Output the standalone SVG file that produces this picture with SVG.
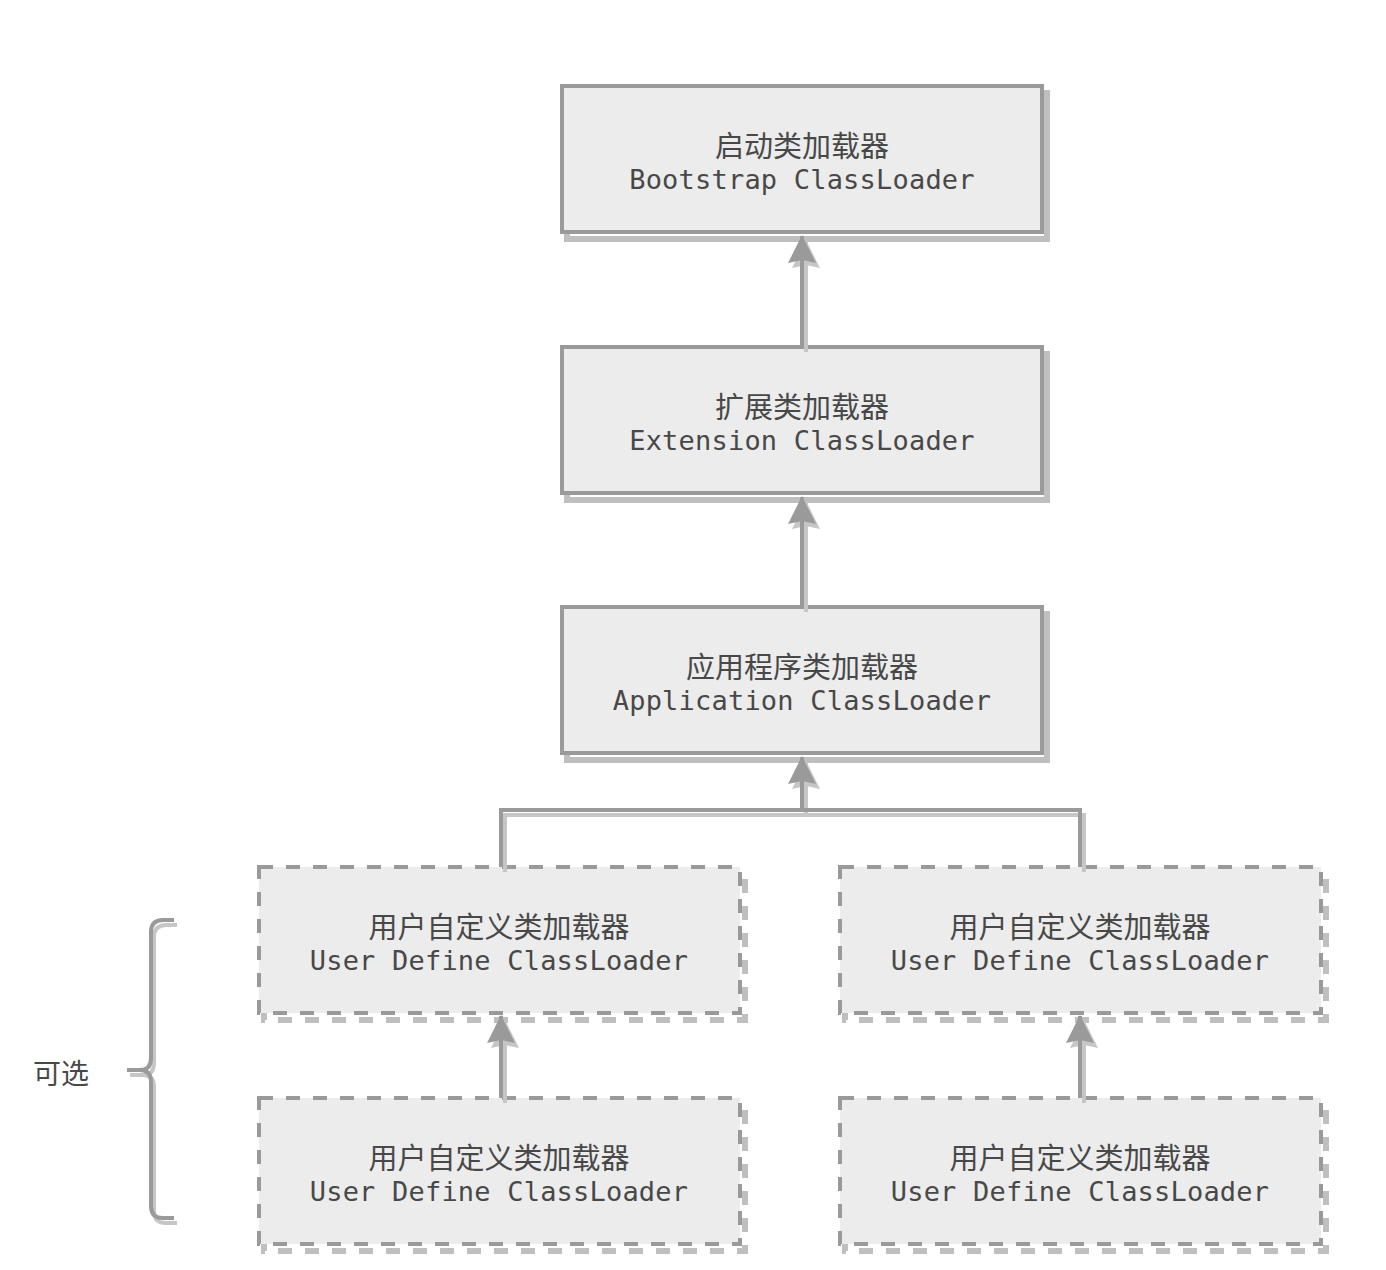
<svg xmlns="http://www.w3.org/2000/svg" width="1386" height="1270" viewBox="0 0 1386 1270">
  <style>
    .box { fill: #ececec; stroke: #9a9a9a; stroke-width: 4; }
    .dash { stroke-dasharray: 14 13; }
    .shadow { fill: none; stroke: #bfbfbf; stroke-width: 6; }
    .cn { font-family: "Noto Sans CJK SC", "Noto Sans", sans-serif; font-size: 29px; fill: #484848; text-anchor: middle; }
    .en { font-family: "DejaVu Sans Mono", "Liberation Mono", monospace; font-size: 27px; fill: #484848; text-anchor: middle; letter-spacing: 0.2px; }
    .wire { fill: none; stroke: #9a9a9a; stroke-width: 4; }
    .wire-shadow { fill: none; stroke: #c6c6c6; stroke-width: 4; }
    .head { fill: #9a9a9a; }
    .head-shadow { fill: #c6c6c6; }
    .brace { fill: none; stroke: #9a9a9a; stroke-width: 4; stroke-linecap: butt; }
    .brace-shadow { fill: none; stroke: #c6c6c6; stroke-width: 4; }
  </style>
  <defs>
    <marker id="arrow" markerUnits="userSpaceOnUse" markerWidth="28" markerHeight="30" refX="27" refY="14" orient="auto">
      <path class="head" d="M0 0 L28 14 L0 28 L3 14 Z"/>
    </marker>
    <marker id="arrow-shadow" markerUnits="userSpaceOnUse" markerWidth="28" markerHeight="30" refX="27" refY="14" orient="auto">
      <path class="head-shadow" d="M0 0 L28 14 L0 28 L3 14 Z"/>
    </marker>
  </defs>

  <rect width="1386" height="1270" fill="#ffffff"/>

  <!-- bootstrap loader -->
  <g id="bootstrap">
    <rect class="shadow" x="567" y="93" width="480" height="146"/>
    <rect class="box" x="562" y="86" width="480" height="146"/>
    <text class="cn" x="802" y="157">启动类加载器</text>
    <text class="en" x="802" y="189">Bootstrap ClassLoader</text>
  </g>

  <!-- extension loader -->
  <g id="extension">
    <rect class="shadow" x="567" y="354" width="480" height="146"/>
    <rect class="box" x="562" y="347" width="480" height="146"/>
    <text class="cn" x="802" y="418">扩展类加载器</text>
    <text class="en" x="802" y="450">Extension ClassLoader</text>
  </g>

  <!-- application loader -->
  <g id="application">
    <rect class="shadow" x="567" y="614" width="480" height="146"/>
    <rect class="box" x="562" y="607" width="480" height="146"/>
    <text class="cn" x="802" y="678">应用程序类加载器</text>
    <text class="en" x="802" y="710">Application ClassLoader</text>
  </g>

  <!-- user defined loaders -->
  <g id="user-left-1">
    <rect class="shadow dash" x="264" y="874" width="481" height="146"/>
    <rect class="box dash" x="259" y="867" width="481" height="146"/>
    <text class="cn" x="499" y="938">用户自定义类加载器</text>
    <text class="en" x="499" y="970">User Define ClassLoader</text>
  </g>
  <g id="user-right-1">
    <rect class="shadow dash" x="845" y="874" width="481" height="146"/>
    <rect class="box dash" x="840" y="867" width="481" height="146"/>
    <text class="cn" x="1080" y="938">用户自定义类加载器</text>
    <text class="en" x="1080" y="970">User Define ClassLoader</text>
  </g>
  <g id="user-left-2">
    <rect class="shadow dash" x="264" y="1105" width="481" height="146"/>
    <rect class="box dash" x="259" y="1098" width="481" height="146"/>
    <text class="cn" x="499" y="1169">用户自定义类加载器</text>
    <text class="en" x="499" y="1201">User Define ClassLoader</text>
  </g>
  <g id="user-right-2">
    <rect class="shadow dash" x="845" y="1105" width="481" height="146"/>
    <rect class="box dash" x="840" y="1098" width="481" height="146"/>
    <text class="cn" x="1080" y="1169">用户自定义类加载器</text>
    <text class="en" x="1080" y="1201">User Define ClassLoader</text>
  </g>

  <!-- optional bracket -->
  <g id="optional">
    <path class="brace-shadow" transform="translate(3,5)" d="M174 920 H163 Q151 920 151 932 V1058 Q151 1070 140 1070 H127 M140 1070 Q151 1070 151 1082 V1206 Q151 1218 163 1218 H174"/>
    <path class="brace" d="M174 920 H163 Q151 920 151 932 V1058 Q151 1070 140 1070 H127 M140 1070 Q151 1070 151 1082 V1206 Q151 1218 163 1218 H174"/>
    <text class="cn" x="33" y="1084" style="text-anchor:start;font-size:28px">可选</text>
  </g>

  <!-- parent delegation connectors -->
  <g id="connectors">
    <g transform="translate(4,5)">
      <path class="wire-shadow" d="M802 347 V236" marker-end="url(#arrow-shadow)"/>
      <path class="wire-shadow" d="M802 607 V497" marker-end="url(#arrow-shadow)"/>
      <path class="wire-shadow" d="M501 867 V810 H1080 V867"/>
      <path class="wire-shadow" d="M802 810 V757" marker-end="url(#arrow-shadow)"/>
      <path class="wire-shadow" d="M501 1098 V1016" marker-end="url(#arrow-shadow)"/>
      <path class="wire-shadow" d="M1080 1098 V1016" marker-end="url(#arrow-shadow)"/>
    </g>
    <path class="wire" d="M802 347 V236" marker-end="url(#arrow)"/>
    <path class="wire" d="M802 607 V497" marker-end="url(#arrow)"/>
    <path class="wire" d="M501 867 V810 H1080 V867"/>
    <path class="wire" d="M802 810 V757" marker-end="url(#arrow)"/>
    <path class="wire" d="M501 1098 V1016" marker-end="url(#arrow)"/>
    <path class="wire" d="M1080 1098 V1016" marker-end="url(#arrow)"/>
  </g>
</svg>
